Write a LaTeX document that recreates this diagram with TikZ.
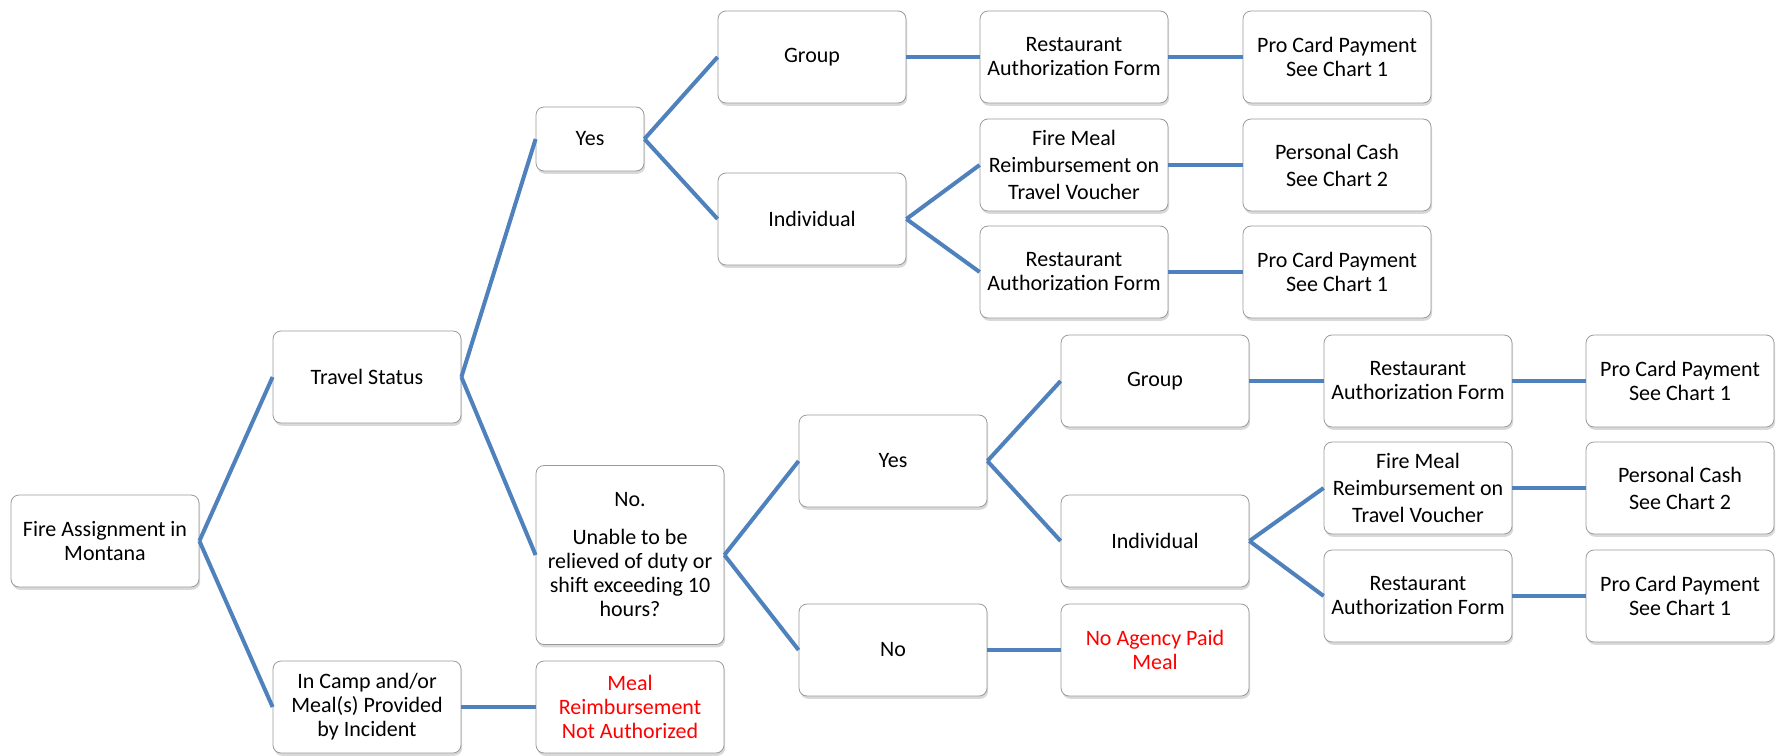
\documentclass[tikz,border=0pt]{standalone}
\usepackage{fontspec}
\setmainfont{Carlito}
\usetikzlibrary{shadows}
\definecolor{linkblue}{HTML}{4F81BD}
\definecolor{boxline}{HTML}{9A9A9A}
\tikzset{
    x=0.5pt, y=-0.5pt, % one unit is one pixel of the chart
    box/.style={draw=boxline, fill=white, rounded corners=4pt, align=center,
        minimum width=94pt, minimum height=46pt, inner sep=1pt,
        font=\fontsize{11}{12}\selectfont,
        drop shadow={shadow xshift=0.6pt, shadow yshift=-1.4pt, opacity=0.3}}, % every decision box
    small/.style={box, minimum width=54pt, minimum height=32pt}, % the first Yes
    tall/.style={box, minimum height=89.5pt}, % the long question
    loose/.style={font=\fontsize{11}{13.5}\selectfont},
    redtext/.style={text=red}, % dead ends
    link/.style={draw=linkblue, line width=2pt},
}
\begin{document}
\begin{tikzpicture}
    \useasboundingbox (0,0) rectangle (1777,755);
    \node[box] (fire) at (105,541) {Fire Assignment in\\Montana};
    \node[box] (travel) at (367,377) {Travel Status};
    \node[box] (camp) at (367,707) {In Camp and/or\\Meal(s) Provided\\by Incident};
    \node[small] (yesA) at (590,139) {Yes};
    \node[tall] (noA) at (630,555) {No.\\[7pt]Unable to be\\relieved of duty or\\shift exceeding 10\\hours?};
    \node[box, redtext] (notauth) at (630,707) {Meal\\Reimbursement\\Not Authorized};
    % traveling
    \node[box] (groupA) at (812,57) {Group};
    \node[box] (indivA) at (812,219) {Individual};
    \node[box] (restA) at (1074,57) {Restaurant\\Authorization Form};
    \node[box, loose] (fmealA) at (1074,165) {Fire Meal\\Reimbursement on\\Travel Voucher};
    \node[box] (restB) at (1074,272) {Restaurant\\Authorization Form};
    \node[box] (procA) at (1337,57) {Pro Card Payment\\See Chart 1};
    \node[box, loose] (cashA) at (1337,165) {Personal Cash\\See Chart 2};
    \node[box] (procB) at (1337,272) {Pro Card Payment\\See Chart 1};
    % not traveling
    \node[box] (yesB) at (893,461) {Yes};
    \node[box] (noB) at (893,650) {No};
    \node[box] (groupB) at (1155,381) {Group};
    \node[box] (indivB) at (1155,541) {Individual};
    \node[box, redtext] (noagency) at (1155,650) {No Agency Paid\\Meal};
    \node[box] (restC) at (1418,381) {Restaurant\\Authorization Form};
    \node[box, loose] (fmealB) at (1418,488) {Fire Meal\\Reimbursement on\\Travel Voucher};
    \node[box] (restD) at (1418,596) {Restaurant\\Authorization Form};
    \node[box] (procC) at (1680,381) {Pro Card Payment\\See Chart 1};
    \node[box, loose] (cashB) at (1680,488) {Personal Cash\\See Chart 2};
    \node[box] (procD) at (1680,596) {Pro Card Payment\\See Chart 1};
    \foreach \a/\b in {fire/travel, fire/camp, travel/yesA, travel/noA, camp/notauth,
        yesA/groupA, yesA/indivA, groupA/restA, indivA/fmealA, indivA/restB,
        restA/procA, fmealA/cashA, restB/procB,
        noA/yesB, noA/noB, yesB/groupB, yesB/indivB, noB/noagency,
        groupB/restC, indivB/fmealB, indivB/restD,
        restC/procC, fmealB/cashB, restD/procD}
        \draw[link] (\a.east) -- (\b.west);
\end{tikzpicture}
\end{document}
